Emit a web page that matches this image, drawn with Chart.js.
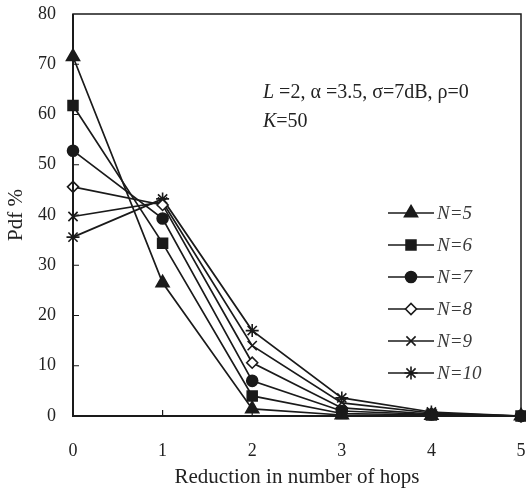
<!DOCTYPE html>
<html>
<head>
<meta charset="utf-8">
<script src="https://cdn.jsdelivr.net/npm/chart.js@4/dist/chart.umd.min.js"></script>
<style>
  html, body { margin: 0; padding: 0; background: #fff; }
  #wrap { width: 526px; height: 490px; }
</style>
</head>
<body>
<div id="wrap"><canvas id="pdf"></canvas></div>
<script>
const hops = [0, 1, 2, 3, 4, 5];
const seriesNames = ["N=5", "N=6", "N=7", "N=8", "N=9", "N=10"];
const n5 = [71.5, 26.5, 1.4, 0.2, 0.1, 0];
const n6 = [61.8, 34.4, 4.0, 0.5, 0.2, 0];
const n7 = [52.8, 39.3, 7.0, 1.0, 0.3, 0];
const n8 = [45.6, 42.0, 10.6, 1.6, 0.4, 0];
const n9 = [39.7, 42.6, 14.0, 2.6, 0.6, 0];
const n10 = [35.6, 43.2, 17.0, 3.6, 0.8, 0];
const yTicks = [0, 10, 20, 30, 40, 50, 60, 70, 80];

const ink = "#1a1a1a";
const serif = '"Liberation Serif", "DejaVu Serif", serif';

const styles = [
  { pointStyle: "triangle", radius: 7.5, fill: ink },
  { pointStyle: "rect", radius: 7, fill: ink },
  { pointStyle: "circle", radius: 5.5, fill: ink },
  { pointStyle: "rectRot", radius: 5.5, fill: "#fff" },
  { pointStyle: "crossRot", radius: 6.5, fill: ink },
  { pointStyle: "star", radius: 6.5, fill: ink },
];

const allSeries = [n5, n6, n7, n8, n9, n10];

const datasets = allSeries.map((vals, i) => ({
  label: seriesNames[i],
  data: vals.map((v, j) => ({ x: hops[j], y: v })),
  borderColor: ink,
  borderWidth: 1.7,
  pointStyle: styles[i].pointStyle,
  pointRadius: styles[i].radius,
  pointBackgroundColor: styles[i].fill,
  pointBorderColor: ink,
  pointBorderWidth: 1.6,
  tension: 0,
  clip: false,
}));

// frame, inward ticks, legend and note
const decor = {
  id: "decor",
  afterDraw(chart) {
    const ctx = chart.ctx;
    const a = chart.chartArea;
    const xs = chart.scales.x;
    const ys = chart.scales.y;
    ctx.save();
    ctx.strokeStyle = ink;
    ctx.lineWidth = 1.5;
    ctx.strokeRect(a.left, a.top, a.right - a.left, a.bottom - a.top);
    ctx.beginPath();
    ctx.lineWidth = 2;
    ctx.moveTo(a.left, a.top);
    ctx.lineTo(a.left, a.bottom);
    ctx.lineTo(a.right, a.bottom);
    ctx.stroke();
    ctx.lineWidth = 1.2;
    ctx.beginPath();
    yTicks.slice(1, -1).forEach((t) => {
      const py = ys.getPixelForValue(t);
      ctx.moveTo(a.left, py);
      ctx.lineTo(a.left + 6, py);
    });
    hops.slice(1, -1).forEach((t) => {
      const px = xs.getPixelForValue(t);
      ctx.moveTo(px, a.bottom);
      ctx.lineTo(px, a.bottom - 6);
    });
    ctx.stroke();

    // legend
    const lx = a.right - 133;
    chart.data.datasets.forEach((ds, i) => {
      const y = a.top + 199 + i * 32;
      ctx.strokeStyle = ink;
      ctx.lineWidth = 1.6;
      ctx.beginPath();
      ctx.moveTo(lx, y);
      ctx.lineTo(lx + 46, y);
      ctx.stroke();
      ctx.fillStyle = ds.pointBackgroundColor;
      ctx.strokeStyle = ink;
      Chart.helpers.drawPoint(ctx, {
        pointStyle: ds.pointStyle,
        radius: ds.pointRadius,
        borderWidth: 1.6,
        rotation: 0,
      }, lx + 23, y);
      ctx.fillStyle = "#3a3a3a";
      ctx.font = "italic 19px " + serif;
      ctx.textBaseline = "middle";
      ctx.textAlign = "left";
      ctx.fillText(ds.label, lx + 49, y + 1);
    });

    // parameter note
    ctx.fillStyle = "#222";
    ctx.textBaseline = "alphabetic";
    const note = (parts, x, y) => {
      parts.forEach(([st, txt]) => {
        ctx.font = st + " 20px " + serif;
        ctx.fillText(txt, x, y);
        x += ctx.measureText(txt).width;
      });
    };
    note([["italic", "L"], ["normal", " =2, \u03b1 =3.5, \u03c3=7dB, \u03c1=0"]], a.left + 190, a.top + 84);
    note([["italic", "K"], ["normal", "=50"]], a.left + 190, a.top + 113);
    ctx.restore();
  },
};

new Chart(document.getElementById("pdf"), {
  type: "line",
  data: { datasets: datasets },
  options: {
    responsive: true,
    maintainAspectRatio: false,
    animation: false,
    layout: { autoPadding: false, padding: { top: 14, right: 5, left: 0, bottom: 0 } },
    scales: {
      x: {
        type: "linear",
        min: 0,
        max: 5,
        afterFit: (s) => {
          s.height = 74;
          s.paddingLeft = 0;
          s.paddingRight = 0;
        },
        grid: { display: false },
        border: { display: false },
        ticks: {
          stepSize: 1,
          color: "#222",
          padding: 16,
          font: { family: serif, size: 18 },
        },
        title: {
          display: true,
          text: "Reduction in number of hops",
          color: "#222",
          padding: { top: 0, bottom: 0 },
          font: { family: serif, size: 21 },
        },
      },
      y: {
        min: 0,
        max: 80,
        afterFit: (s) => {
          s.width = 73;
          s.paddingTop = 0;
          s.paddingBottom = 0;
        },
        afterBuildTicks: (s) => { s.ticks = yTicks.map((v) => ({ value: v })); },
        grid: { display: false },
        border: { display: false },
        ticks: {
          color: "#222",
          padding: 9,
          font: { family: serif, size: 18 },
        },
        title: {
          display: true,
          text: "Pdf %",
          color: "#222",
          padding: { top: 4, bottom: 0 },
          font: { family: serif, size: 21 },
        },
      },
    },
    plugins: {
      legend: { display: false },
      tooltip: { enabled: false },
    },
  },
  plugins: [decor],
});
</script>
</body>
</html>
